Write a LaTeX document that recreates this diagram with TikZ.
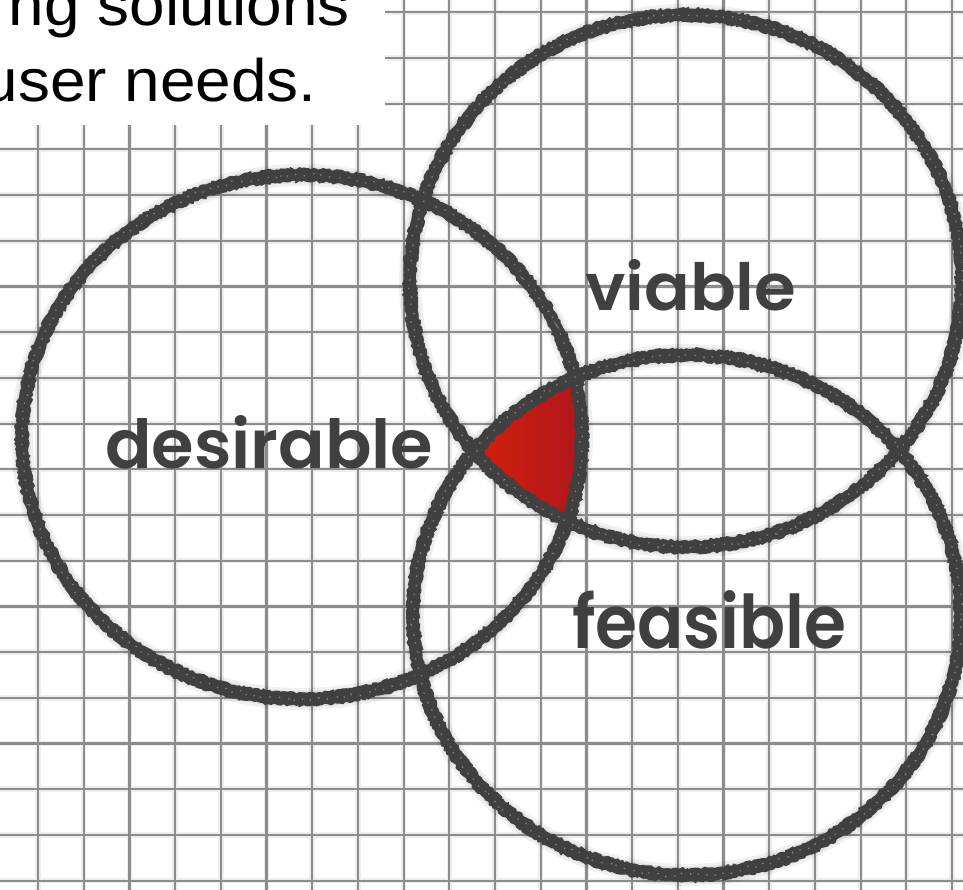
\documentclass[tikz,border=0pt]{standalone}
\usepackage{fontspec}
\usepackage{graphicx}
\usetikzlibrary{decorations.pathmorphing}
\newfontfamily\uifont[FakeStretch=1.065]{Liberation Sans}
\newfontfamily\handfont{Poppins SemiBold}
\definecolor{chalk}{HTML}{404040}
\definecolor{redL}{RGB}{214,32,10}
\definecolor{redR}{RGB}{172,22,30}
\definecolor{gridc}{RGB}{140,140,140}
\tikzset{
  gridsoft/.style={black,opacity=0.07,line width=5.5pt},
  gridcore/.style={gridc,line width=2.2pt},
  halo/.style={black,opacity=0.06,line width=22pt},
  halo2/.style={black,opacity=0.07,line width=16pt},
  chalkbase/.style={chalk,line width=11pt},
  chalkedge/.style={chalk,line width=2.6pt,decorate,decoration={random steps,segment length=2.5pt,amplitude=1.3pt}},
  chalkspeck/.style={white,opacity=0.35,line width=1.2pt,dash pattern=on 1.5pt off 9pt,decorate,decoration={random steps,segment length=3pt,amplitude=2.5pt}},
  handlabel/.style={text=chalk,inner sep=0pt,font=\handfont},
  uitext/.style={text=black,inner sep=0pt,font=\uifont\fontsize{60pt}{60pt}\selectfont}
}
\newcommand{\ringhalo}[4]{%
  \draw[halo] (#1,#2) ellipse [x radius=#3pt, y radius=#4pt];
  \draw[halo2] (#1,#2) ellipse [x radius=#3pt, y radius=#4pt];}
\newcommand{\ringchalk}[4]{%
  \draw[chalkbase] (#1,#2) ellipse [x radius=#3pt, y radius=#4pt];
  \draw[chalkedge] (#1,#2) ellipse [x radius={(#3+5.4)*1pt}, y radius={(#4+5.4)*1pt}];
  \draw[chalkedge] (#1,#2) ellipse [x radius={(#3-5.4)*1pt}, y radius={(#4-5.4)*1pt}];
  \draw[chalkspeck] (#1,#2) ellipse [x radius=#3pt, y radius=#4pt];}
\newcommand{\gridpaths}{%
  (38,0) -- (38,890) (83.7,0) -- (83.7,890) (129.4,0) -- (129.4,890) (175.1,0) -- (175.1,890)
  (220.8,0) -- (220.8,890) (266.5,0) -- (266.5,890) (312.2,0) -- (312.2,890) (357.9,0) -- (357.9,890)
  (403.6,0) -- (403.6,890) (449.3,0) -- (449.3,890) (495.0,0) -- (495.0,890) (540.7,0) -- (540.7,890)
  (586.4,0) -- (586.4,890) (632.1,0) -- (632.1,890) (677.8,0) -- (677.8,890) (723.5,0) -- (723.5,890)
  (769.2,0) -- (769.2,890) (814.9,0) -- (814.9,890) (860.6,0) -- (860.6,890) (906.3,0) -- (906.3,890)
  (952.0,0) -- (952.0,890)
  (0,12.3) -- (963,12.3) (0,58.0) -- (963,58.0) (0,103.7) -- (963,103.7) (0,149.4) -- (963,149.4)
  (0,195.1) -- (963,195.1) (0,240.8) -- (963,240.8) (0,286.5) -- (963,286.5) (0,332.2) -- (963,332.2)
  (0,377.9) -- (963,377.9) (0,423.6) -- (963,423.6) (0,469.3) -- (963,469.3) (0,515.0) -- (963,515.0)
  (0,560.7) -- (963,560.7) (0,606.4) -- (963,606.4) (0,652.1) -- (963,652.1) (0,697.8) -- (963,697.8)
  (0,743.5) -- (963,743.5) (0,789.2) -- (963,789.2) (0,834.9) -- (963,834.9) (0,880.6) -- (963,880.6)}
\begin{document}
\begin{tikzpicture}[x=1pt,y=-1pt]
\useasboundingbox (0,0) rectangle (963,890);
\fill[white] (0,0) rectangle (963,890);
% grid paper
\draw[gridsoft] \gridpaths;
\draw[gridcore] \gridpaths;
% white text panel
\fill[white] (0,0) rectangle (385,125);
\node[uitext,anchor=base east] (line1) at (350,26) {ng solutions};
\node[uitext,anchor=base east] (line2) at (317,102) {user needs.};
% halos
\ringhalo{302}{437}{280}{262}
\ringhalo{686}{281}{276}{266}
\ringhalo{687}{615}{274}{260}
% red intersection
\begin{scope}
  \clip (302,437) ellipse [x radius=280pt, y radius=262pt];
  \clip (686,281) ellipse [x radius=276pt, y radius=266pt];
  \clip (687,615) ellipse [x radius=274pt, y radius=260pt];
  \shade[left color=redL,right color=redR] (465,365) rectangle (595,530);
\end{scope}
% chalk rings
\ringchalk{302}{437}{280}{262}
\ringchalk{686}{281}{276}{266}
\ringchalk{687}{615}{274}{260}
% labels
\node[handlabel,anchor=base west] (desirable) at (105,468) {\resizebox{328pt}{53pt}{desirable}};
\node[handlabel,anchor=base west] (viable) at (585,310) {\resizebox{211pt}{51pt}{viable}};
\node[handlabel,anchor=base west] (feasible) at (572,648) {\resizebox{274pt}{58pt}{feasible}};
\end{tikzpicture}
\end{document}
